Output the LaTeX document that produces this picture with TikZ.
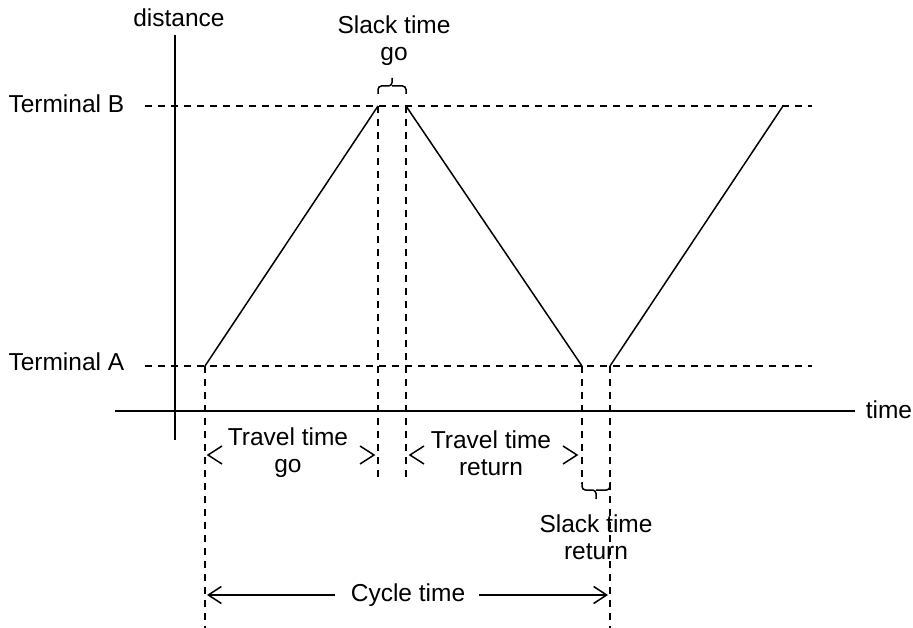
\documentclass[tikz,border=0pt]{standalone}
\usepackage{fontspec}
\setmainfont{Liberation Sans}
\usetikzlibrary{arrows.meta}
\begin{document}
\begin{tikzpicture}[x=1pt,y=-1pt,line width=1.5pt,
  dsh/.style={dash pattern=on 7pt off 6pt,line width=1.4pt},
  lbl/.style={font=\fontsize{24.5}{27}\selectfont,align=center,inner sep=0pt},
  chev/.style={line width=1.5pt,line join=miter},
  barbl/.style={{Straight Barb[length=13pt,width=17pt,line width=1.5pt]}-},
  brc/.style={rounded corners=3.5pt,line width=1.5pt}]
\useasboundingbox (0,0) rectangle (913,628);
% axes
\coordinate (ytop) at (175,35);
\coordinate (ybot) at (175,440);
\coordinate (xl) at (115,411);
\coordinate (xr) at (855,411);
\draw (ytop) -- (ybot);
\draw (xl) -- (xr);
\node[lbl] (dist) at (179,18) {distance};
\node[lbl,anchor=west] (time) at (865,410) {time};
% terminals
\coordinate (tbl) at (145,106);
\coordinate (tbr) at (812,106);
\coordinate (tal) at (145,366);
\coordinate (tar) at (812,366);
\draw[dsh] (tbl) -- (tbr);
\draw[dsh] (tal) -- (tar);
\node[lbl,anchor=east] (termB) at (125,104) {Terminal B};
\node[lbl,anchor=east] (termA) at (125,362) {Terminal A};
% trips
\coordinate (a0) at (205,366);
\coordinate (b1) at (378,106);
\coordinate (b2) at (406,106);
\coordinate (a1) at (582,366);
\coordinate (a2) at (610,366);
\coordinate (b3) at (783,106);
\draw (a0) -- (b1);
\draw (b2) -- (a1);
\draw (a2) -- (b3);
% vertical dashed
\coordinate (a0d) at (205,628);
\coordinate (b1d) at (378,480);
\coordinate (b2d) at (406,480);
\coordinate (a1d) at (582,484);
\coordinate (a2d) at (610,628);
\draw[dsh] (a0) -- (a0d);
\draw[dsh] (b1) -- (b1d);
\draw[dsh] (b2) -- (b2d);
\draw[dsh] (a1) -- (a1d);
\draw[dsh] (a2) -- (a2d);
% slack go brace
\coordinate (sgm) at (392,86);
\coordinate (sgt) at (392,78);
\draw[brc] (378,94) |- (sgm) -- (sgt);
\draw[brc] (406,94) |- (sgm);
\node[lbl] (slackgo) at (394,41) {Slack time\\go};
% slack return brace
\coordinate (srm) at (596,490);
\coordinate (srt) at (596,499);
\draw[brc] (582,482) |- (srm) -- (srt);
\draw[brc] (610,482) |- (srm);
\node[lbl] (slackret) at (596,537) {Slack time\\return};
% travel go
\node[lbl] (tgo) at (288,453) {Travel time\\go};
\draw[chev] (222,446) -- (208,455) -- (222,464);
\draw[chev] (360,446) -- (374,455) -- (360,464);
% travel return
\node[lbl] (tret) at (491,453) {Travel time\\return};
\draw[chev] (424,446) -- (410,455) -- (424,464);
\draw[chev] (563,446) -- (577,455) -- (563,464);
% cycle time
\node[lbl] (cyc) at (408,595) {Cycle time};
\coordinate (c1) at (207,595);
\coordinate (c2) at (608,595);
\coordinate (c1e) at (335,595);
\coordinate (c2s) at (479,595);
\draw[barbl] (c1) -- (c1e);
\draw[barbl] (c2) -- (c2s);
\end{tikzpicture}
\end{document}
